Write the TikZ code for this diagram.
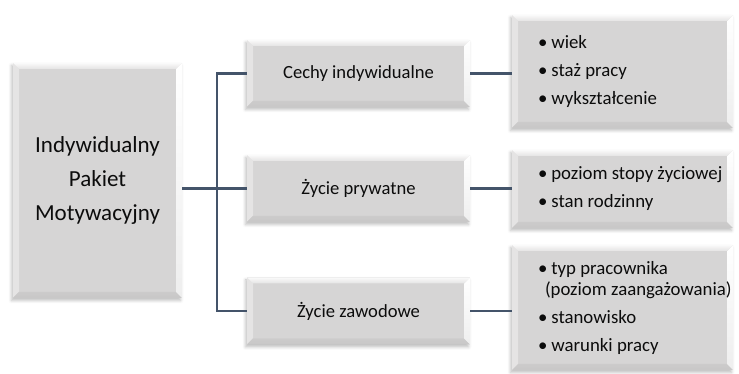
\documentclass[tikz,border=0pt]{standalone}
\usepackage{fontspec}
\setmainfont{Carlito}
\usetikzlibrary{shadows.blur}

\definecolor{boxfill}{RGB}{214,213,213}
\definecolor{bevtop}{RGB}{250,250,250}
\definecolor{bevtopin}{RGB}{228,227,227}
\definecolor{bevleft}{RGB}{229,228,228}
\definecolor{bevright}{RGB}{238,238,238}
\definecolor{bevbottom}{RGB}{200,199,199}
\definecolor{linkcol}{RGB}{68,84,106}
\definecolor{textcol}{RGB}{12,12,12}

\tikzset{
  bevel/.style={path picture={
    \path (path picture bounding box.south west) coordinate (bsw)
          (path picture bounding box.north east) coordinate (bne)
          (path picture bounding box.north west) coordinate (bnw)
          (path picture bounding box.south east) coordinate (bse);
    % left face
    \fill[bevleft] (bnw) -- ([shift={(#1,-#1)}]bnw) -- ([shift={(#1,#1)}]bsw) -- (bsw) -- cycle;
    % bottom face
    \shade[top color=bevbottom!70!boxfill, bottom color=bevbottom]
      (bsw) -- ([shift={(#1,#1)}]bsw) -- ([shift={(-#1,#1)}]bse) -- (bse) -- cycle;
    % right face
    \shade[top color=white, bottom color=bevright]
      (bne) -- (bse) -- ([shift={(-#1,#1)}]bse) -- ([shift={(-#1,-#1)}]bne) -- cycle;
    % top face
    \shade[top color=bevtop, bottom color=bevtopin]
      (bnw) -- (bne) -- ([shift={(-#1,-#1)}]bne) -- ([shift={(#1,-#1)}]bnw) -- cycle;
  }},
  % keep the font's own interword space inside aligned nodes
  natural spaces/.style={execute at begin node={\spaceskip=0pt\xspaceskip=0pt\relax}},
  card/.style={draw=none, fill=boxfill, text=textcol, bevel=6pt, natural spaces,
    blur shadow={shadow xshift=-1.5pt, shadow yshift=-2.5pt,
                 shadow blur radius=3pt, shadow opacity=25}},
  rootbox/.style={card, minimum width=169pt, minimum height=235pt,
    align=center, font=\fontsize{23}{34}\selectfont},
  midbox/.style={card, minimum width=223pt, minimum height=67pt,
    align=center, font=\fontsize{18.6}{21}\selectfont},
  listbox/.style={card, minimum width=221pt, inner xsep=26pt, text width=169pt,
    align=left, font=\fontsize{18.8}{21}\selectfont},
  link/.style={draw=linkcol, line width=2.2pt}
}
\newcommand{\itemdot}{•\hspace{4pt}}

\begin{document}
\begin{tikzpicture}[x=1pt, y=1pt]
  \useasboundingbox (0,0) rectangle (739,374);

  % root of the hierarchy
  \node[rootbox] (root) at (97.5,193.5) {Indywidualny\\Pakiet\\Motywacyjny};

  % second level
  \node[midbox] (cechy) at (358.5,300.5) {Cechy indywidualne};
  \node[midbox] (pryw)  at (358.5,185.5) {Życie prywatne};
  \node[midbox] (zaw)   at (358.5,63)    {Życie zawodowe};

  % detail lists
  \node[listbox, minimum height=113pt] (lcechy) at (622.5,302.5)
    {\mbox{\itemdot wiek}\\[7pt]\mbox{\itemdot staż pracy}\\[7pt]\mbox{\itemdot wykształcenie}};
  \node[listbox, minimum height=78pt] (lpryw) at (622.5,185)
    {\mbox{\itemdot poziom stopy życiowej}\\[7pt]\mbox{\itemdot stan rodzinny}};
  \node[listbox, minimum height=125pt] (lzaw) at (622.5,66.5)
    {\mbox{\itemdot typ pracownika}\\\hspace*{7pt}\mbox{(poziom zaangażowania)}\\[7pt]%
     \mbox{\itemdot stanowisko}\\[7pt]\mbox{\itemdot warunki pracy}};

  % connectors
  \draw[link] (cechy.west) -- ++(-30,0) |- (zaw.west);
  \draw[link] (root.east |- pryw.west) -- (pryw.west);
  \draw[link] (cechy.east) -- (cechy.east -| lcechy.west);
  \draw[link] (pryw.east) -- (pryw.east -| lpryw.west);
  \draw[link] (zaw.east) -- (zaw.east -| lzaw.west);
\end{tikzpicture}
\end{document}
